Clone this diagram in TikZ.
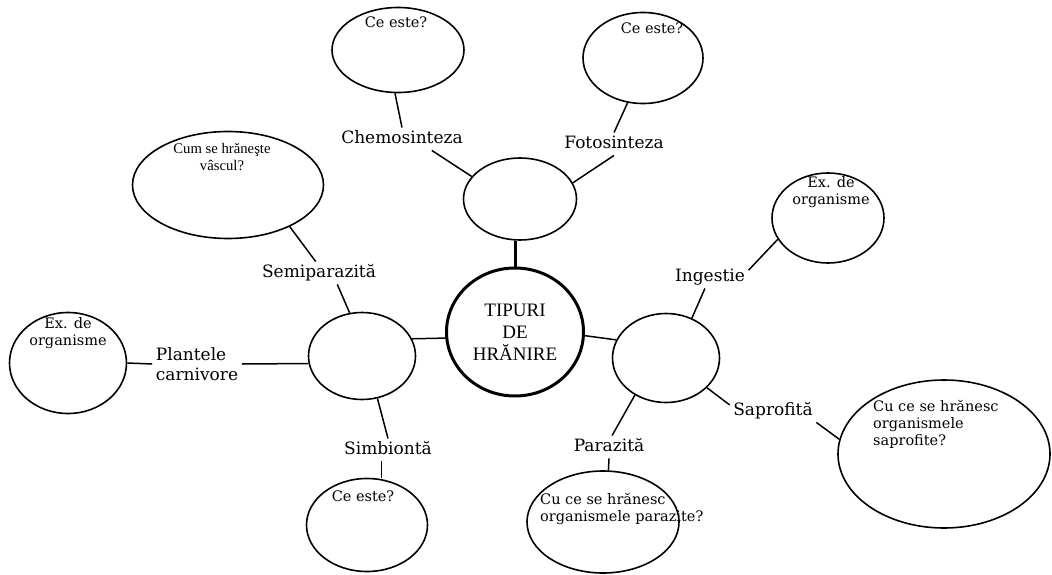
\documentclass[tikz,border=0pt]{standalone}
\usepackage{fontspec}
\newfontfamily\schoolfont{DejaVu Serif}
\newfontfamily\romanfont{Liberation Serif}
\usetikzlibrary{positioning,shapes.geometric}

\begin{document}
\begin{tikzpicture}[
    x=1pt, y=-1pt,
    dims/.style 2 args={minimum width=#1pt, minimum height=#2pt},
    hub/.style={ellipse, draw, line width=1.6pt, inner sep=0pt},
    leaf/.style={ellipse, draw, line width=1.6pt, inner sep=0pt},
    core/.style={ellipse, draw, line width=3pt, inner sep=0pt, align=center,
      font=\romanfont\fontsize{19pt}{22pt}\selectfont},
    branch/.style={inner sep=3.5pt, text height=12pt, text depth=3.5pt,
      font=\schoolfont\fontsize{17pt}{20pt}\selectfont},
    question/.style={inner sep=0pt, align=center,
      font=\schoolfont\fontsize{14.5pt}{17pt}\selectfont},
    link/.style={line width=1.5pt}
  ]
    \useasboundingbox (0,0) rectangle (1052,575);

    % centre and the three hubs
    \node[core, dims={137}{128}] (centre) at (515,332) {TIPURI\\DE\\HRĂNIRE};
    \node[hub, dims={113}{82}] (hub_top) at (520,199) {};
    \node[hub, dims={107}{89}] (hub_right) at (666,358) {};
    \node[hub, dims={107}{87}] (hub_left) at (362,356) {};

    % question ellipses
    \node[leaf, dims={132}{85}] (chemo_q) at (398,50) {};
    \node[leaf, dims={120}{91}] (foto_q) at (643,58) {};
    \node[leaf, dims={112}{90}] (ingestie_q) at (828,218) {};
    \node[leaf, dims={212}{148}] (sapro_q) at (944,454) {};
    \node[leaf, dims={152}{102}] (paraz_q) at (603,522) {};
    \node[leaf, dims={121}{93}] (simb_q) at (367,525) {};
    \node[leaf, dims={117}{101}] (plante_q) at (68,363) {};
    \node[leaf, dims={191}{107}] (semi_q) at (228,185) {};

    \node[question, anchor=north] (chemo_txt) at ([xshift=-2pt, yshift=-9.5pt]chemo_q.north) {Ce este?};
    \node[question, anchor=north] (foto_txt) at ([xshift=9pt, yshift=-10.8pt]foto_q.north) {Ce este?};
    \node[question, anchor=north] (ingestie_txt) at ([xshift=3pt, yshift=-4pt]ingestie_q.north) {Ex. de\\organisme};
    \node[question, anchor=north west, align=left] (sapro_txt) at ([xshift=-71pt, yshift=-21pt]sapro_q.north) {Cu ce se hrănesc\\organismele\\saprofite?};
    \node[question, anchor=north west, align=left] (paraz_txt) at ([xshift=-63pt, yshift=-23pt]paraz_q.north) {Cu ce se hrănesc\\organismele parazite?};
    \node[question, anchor=north] (simb_txt) at ([xshift=-4pt, yshift=-12.5pt]simb_q.north) {Ce este?};
    \node[question, anchor=north] (plante_txt) at ([yshift=-5.5pt]plante_q.north) {Ex. de\\organisme};
    \node[question, anchor=north, font=\romanfont\fontsize{14.7pt}{16.5pt}\selectfont] (semi_txt) at ([xshift=-6pt, yshift=-12.5pt]semi_q.north) {Cum se hrăneşte\\vâscul?};

    % branch labels
    \node[branch] (chemo_label) at (402,139) {Chemosinteza};
    \node[branch] (foto_label) at (614,144) {Fotosinteza};
    \node[branch] (ingestie_label) at (710,277) {Ingestie};
    \node[branch] (sapro_label) at (773,411) {Saprofită};
    \node[branch] (paraz_label) at (609,447) {Parazită};
    \node[branch] (simb_label) at (388,450) {Simbiontă};
    \node[branch] (semi_label) at (319,273) {Semiparazită};
    \node[branch, text height={}, text depth={}, align=left] (plante_label) at (197,364) {Plantele\\carnivore};

    \draw[line width=3pt] (centre.north) -- (centre.north |- hub_top.south);
    \draw[link] (centre.-3) -- (hub_right.160);
    \draw[link] (centre.185) -- (hub_left.19);

    \draw[link] (chemo_q.266) -- (chemo_label.north);
    \draw[link] (chemo_label.-21) -- (hub_top.155);
    \draw[link] (foto_q.251) -- (foto_label.north);
    \draw[link] (foto_label.south) -- (hub_top.17);

    \draw[link] (hub_right.57) -- (ingestie_label.-114);
    \draw[link] (ingestie_label.10) -- (ingestie_q.203);
    \draw[link] (hub_right.-36) -- (sapro_label.172);
    \draw[link] (sapro_label.south east) -- (sapro_q.172);
    \draw[link] (hub_right.230) -- (paraz_label.75);
    \draw[link] (paraz_label.south) -- (paraz_q.84);

    \draw[link] (hub_left.188) -- (plante_label.east);
    \draw[link] (plante_label.west) -- (plante_q.east);
    \draw[link] (hub_left.-70) -- (simb_label.north);
    \draw[link] (simb_label.-120) -- (simb_label.-120 |- simb_q.north);
    \draw[link] (hub_left.106) -- (semi_label.-32);
    \draw[link] (semi_label.106) -- (semi_q.-34);
  \end{tikzpicture}
\end{document}
